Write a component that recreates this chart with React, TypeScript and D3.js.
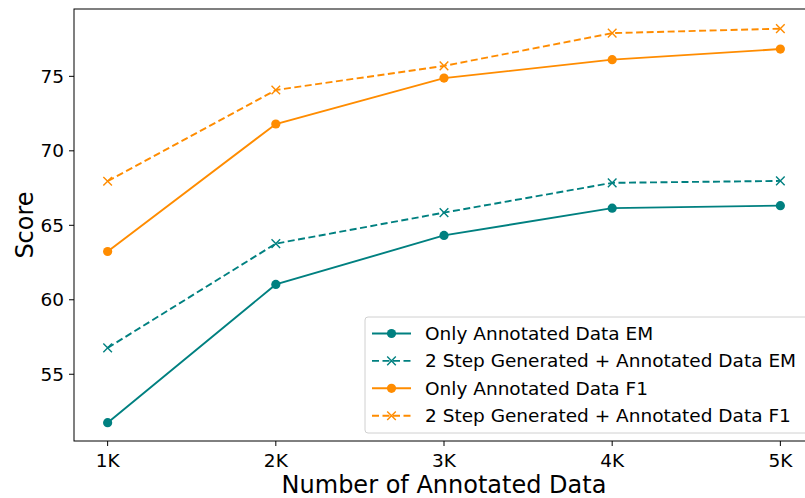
import React from "react";
import * as d3 from "d3";

const categories = ["1K", "2K", "3K", "4K", "5K"];
const onlyEM = [51.75, 61.03, 64.32, 66.15, 66.32];
const stepEM = [56.77, 63.77, 65.85, 67.85, 67.98];
const onlyF1 = [63.24, 71.8, 74.88, 76.12, 76.83];
const stepF1 = [67.96, 74.08, 75.7, 77.9, 78.2];
const yTicks = [55, 60, 65, 70, 75];

const TEAL = "#008080";
const ORANGE = "#ff8c00";

const series = [
  { name: "Only Annotated Data EM", values: onlyEM, color: TEAL, dashed: false },
  { name: "2 Step Generated + Annotated Data EM", values: stepEM, color: TEAL, dashed: true },
  { name: "Only Annotated Data F1", values: onlyF1, color: ORANGE, dashed: false },
  { name: "2 Step Generated + Annotated Data F1", values: stepF1, color: ORANGE, dashed: true },
];

export default function App() {
  const width = 805;
  const height = 498;
  const left = 74;
  const top = 9;
  const bottom = 441;
  const right = 814;

  const x = d3.scaleLinear().domain([-0.2, 4.2]).range([left, right]);
  const y = d3.scaleLinear().domain([50.52, 79.52]).range([bottom, top]);

  const line = d3
    .line<number>()
    .x((_, i) => x(i))
    .y(d => y(d));

  const font = "DejaVu Sans, sans-serif";

  const cross = (cx: number, cy: number, r: number) =>
    `M${cx - r},${cy - r}L${cx + r},${cy + r}M${cx - r},${cy + r}L${cx + r},${cy - r}`;

  const legX = 365;
  const legY = 317;
  const rowH = 27.4;

  return (
    <svg
      width={width}
      height={height}
      style={{ position: "absolute", left: 0, top: 0 }}
      fontFamily={font}
    >
      <rect width={width} height={height} fill="white" />
      {/* y ticks */}
      {yTicks.map(t => (
        <g key={t}>
          <line x1={left - 5} x2={left} y1={y(t)} y2={y(t)} stroke="#000" strokeWidth={1} />
          <text x={left - 10} y={y(t)} dy="0.35em" textAnchor="end" fontSize={18.5}>
            {t}
          </text>
        </g>
      ))}
      {/* x ticks */}
      {categories.map((c, i) => (
        <g key={c}>
          <line x1={x(i)} x2={x(i)} y1={bottom} y2={bottom + 5} stroke="#000" strokeWidth={1} />
          <text x={x(i)} y={bottom + 25.5} textAnchor="middle" fontSize={18.5}>
            {c}
          </text>
        </g>
      ))}
      <text x={444} y={493} textAnchor="middle" fontSize={24}>
        Number of Annotated Data
      </text>
      <text transform={`translate(33,${(top + bottom) / 2}) rotate(-90)`} textAnchor="middle" fontSize={24}>
        Score
      </text>

      {series.map(s => (
        <g key={s.name}>
          <path
            d={line(s.values) || ""}
            fill="none"
            stroke={s.color}
            strokeWidth={1.9}
            strokeDasharray={s.dashed ? "7,3.5" : undefined}
          />
          {s.values.map((v, i) =>
            s.dashed ? (
              <path key={i} d={cross(x(i), y(v), 4.3)} stroke={s.color} strokeWidth={1.4} fill="none" />
            ) : (
              <circle key={i} cx={x(i)} cy={y(v)} r={4.6} fill={s.color} />
            )
          )}
        </g>
      ))}

      {/* frame */}
      <rect x={left} y={top} width={right - left} height={bottom - top} fill="none" stroke="#000" strokeWidth={1} />

      {/* legend */}
      <rect
        x={legX}
        y={legY}
        width={445}
        height={116}
        rx={3}
        fill="white"
        fillOpacity={0.8}
        stroke="#d0d0d0"
        strokeWidth={1}
      />
      {series.map((s, i) => {
        const cy = legY + 16.5 + i * rowH;
        return (
          <g key={s.name}>
            <line
              x1={legX + 7}
              x2={legX + 46}
              y1={cy}
              y2={cy}
              stroke={s.color}
              strokeWidth={1.9}
              strokeDasharray={s.dashed ? "7,3.5" : undefined}
            />
            {s.dashed ? (
              <path d={cross(legX + 26.5, cy, 4.3)} stroke={s.color} strokeWidth={1.4} fill="none" />
            ) : (
              <circle cx={legX + 26.5} cy={cy} r={4.6} fill={s.color} />
            )}
            <text x={legX + 60} y={cy} dy="0.35em" fontSize={18.5}>
              {s.name}
            </text>
          </g>
        );
      })}
    </svg>
  );
}
